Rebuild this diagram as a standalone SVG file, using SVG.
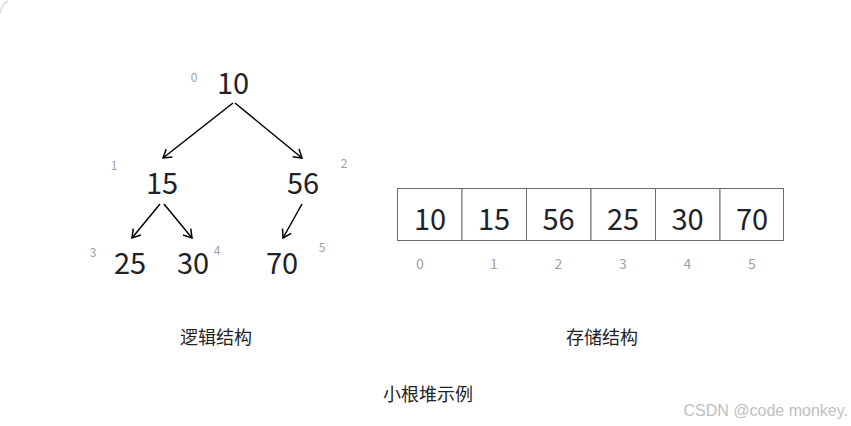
<svg xmlns="http://www.w3.org/2000/svg" width="851" height="426" viewBox="0 0 851 426">
<style>
.num{font-family:"Noto Sans CJK SC","Noto Sans",sans-serif;font-size:29px;fill:#1f2329;text-anchor:middle}
.idx{font-family:"Noto Sans CJK SC","Noto Sans",sans-serif;font-size:12px;fill:#9aa0a8;text-anchor:middle}
.aidx{font-size:14px}
.cap{font-family:"Noto Sans CJK SC",sans-serif;font-size:18px;fill:#1f2329;text-anchor:middle}
.cell{fill:#fff;stroke:#6b6b6b;stroke-width:1}
.edge{stroke:#000;stroke-width:1.5;fill:none;marker-end:url(#arr)}
.wm{font-family:"Liberation Sans",Arial,sans-serif;font-size:16px;fill:#c0c0c0}
</style>
<defs>
<marker id="arr" viewBox="0 0 12 12" refX="10" refY="6" markerWidth="12" markerHeight="12" markerUnits="userSpaceOnUse" orient="auto">
<polyline points="2,1 10,6 2,11" fill="none" stroke="#000" stroke-width="1.5"/>
</marker>
</defs>
<rect width="851" height="426" fill="#fff"/>
<path d="M0.5,13 A14,14 0 0 1 8,1" fill="none" stroke="#dcdcdc" stroke-width="1.5"/>
<g id="connectors">
<line class="edge" x1="233" y1="103" x2="163" y2="158"/>
<line class="edge" x1="235" y1="103" x2="302" y2="158"/>
<line class="edge" x1="160" y1="204" x2="132" y2="238"/>
<line class="edge" x1="164" y1="204" x2="192" y2="238"/>
<line class="edge" x1="302" y1="204" x2="283" y2="238"/>
</g>
<g id="n0"><text class="num" x="233" y="94">10</text><text class="idx" x="194" y="82">0</text></g>
<g id="n1"><text class="num" x="162" y="194">15</text><text class="idx" x="114" y="170">1</text></g>
<g id="n2"><text class="num" x="303" y="194">56</text><text class="idx" x="344" y="168">2</text></g>
<g id="n3"><text class="num" x="130" y="274">25</text><text class="idx" x="93" y="257">3</text></g>
<g id="n4"><text class="num" x="193" y="274">30</text><text class="idx" x="217" y="255">4</text></g>
<g id="n5"><text class="num" x="282" y="274">70</text><text class="idx" x="322" y="252">5</text></g>
<g id="array">
<rect class="cell" x="397.5" y="188.5" width="64.5" height="52"/>
<rect class="cell" x="462" y="188.5" width="64.5" height="52"/>
<rect class="cell" x="526.5" y="188.5" width="64.5" height="52"/>
<rect class="cell" x="591" y="188.5" width="64.5" height="52"/>
<rect class="cell" x="655.5" y="188.5" width="64.5" height="52"/>
<rect class="cell" x="720" y="188.5" width="63.5" height="52"/>
<text class="num" x="430" y="230">10</text>
<text class="num" x="494" y="230">15</text>
<text class="num" x="558.5" y="230">56</text>
<text class="num" x="623" y="230">25</text>
<text class="num" x="687.5" y="230">30</text>
<text class="num" x="752" y="230">70</text>
<text class="idx aidx" x="420" y="269">0</text>
<text class="idx aidx" x="494" y="269">1</text>
<text class="idx aidx" x="558.5" y="269">2</text>
<text class="idx aidx" x="623" y="269">3</text>
<text class="idx aidx" x="687.5" y="269">4</text>
<text class="idx aidx" x="752" y="269">5</text>
</g>
<text class="cap" x="216" y="344">逻辑结构</text>
<text class="cap" x="602" y="344">存储结构</text>
<text class="cap" x="428" y="401">小根堆示例</text>
<text class="wm" x="848" y="416" text-anchor="end">CSDN @code monkey.</text>
</svg>
